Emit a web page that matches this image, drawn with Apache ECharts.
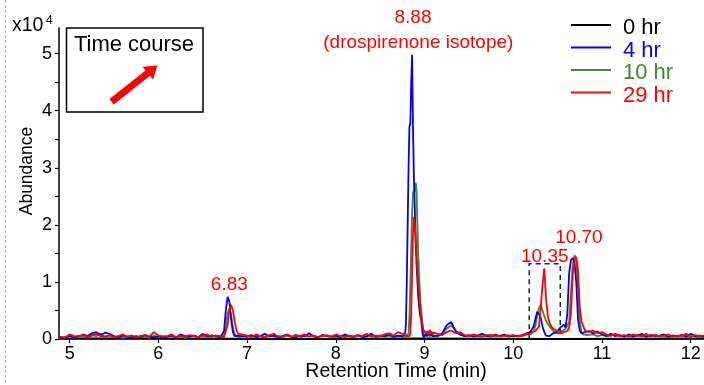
<!DOCTYPE html>
<html>
<head>
<meta charset="utf-8">
<script src="https://cdn.jsdelivr.net/npm/echarts@6/dist/echarts.min.js"></script>
<style>
  html, body { margin: 0; padding: 0; background: #fff; }
  #chart { width: 704px; height: 385px; }
</style>
</head>
<body>
<div id="chart"></div>
<script>
// Retention times (min) shared by the 4, 10 and 29 hr traces
const times = [
  4.88,4.90,4.95,5.00,5.05,5.10,5.15,5.20,5.25,5.30,5.35,5.40,5.45,5.50,5.55,5.60,5.65,5.70,5.75,5.80,5.85,5.90,5.95,6.00,6.05,6.10,6.15,6.20,6.25,6.30,6.35,6.40,6.45,6.50,6.55,6.60,6.65,6.70,
  6.72,6.74,6.76,6.78,6.80,6.82,6.84,6.86,6.88,6.90,6.92,6.94,6.96,
  7.00,7.05,7.10,7.15,7.20,7.25,7.30,7.35,7.40,7.45,7.50,7.55,7.60,7.65,7.70,7.75,7.80,7.85,7.90,7.95,8.00,8.05,8.10,8.15,8.20,8.25,8.30,8.35,8.40,8.45,8.50,8.55,8.60,8.65,8.70,8.75,
  8.76,8.77,8.78,8.79,8.80,8.81,8.82,8.83,8.84,8.85,8.86,8.87,8.88,8.89,8.90,8.91,8.92,8.93,8.94,8.95,8.96,8.97,8.98,8.99,9.00,9.01,9.02,9.03,9.04,9.05,9.06,9.07,9.08,9.09,9.10,
  9.15,9.20,9.25,9.30,9.35,9.40,9.45,9.50,9.55,9.60,9.65,9.70,9.75,9.80,9.85,9.90,9.95,10.00,10.05,10.10,10.15,
  10.17,10.19,10.21,10.23,10.25,10.27,10.29,10.31,10.33,10.35,10.37,10.39,10.41,10.43,10.45,10.47,10.49,10.51,10.53,10.55,10.57,10.59,10.61,10.63,10.65,10.67,10.69,10.71,10.73,10.75,10.77,10.79,10.81,10.83,10.85,
  10.90,10.95,11.00,11.05,11.10,11.15,11.20,11.25,11.30,11.35,11.40,11.45,11.50,11.55,11.60,11.65,11.70,11.75,11.80,11.85,11.90,11.95,12.00,12.05,12.10,12.15
];

// Abundance (x10^4), 4 hr
const abund4hr = [
  0.03,0.05,0.02,0.06,0.03,0.04,0.08,0.05,0.10,0.12,0.07,0.11,0.09,0.05,0.03,0.06,0.04,0.02,0.05,0.03,0.07,0.04,0.03,0.05,0.02,0.04,0.06,0.03,0.08,0.05,0.04,0.06,0.03,0.09,0.05,0.04,0.06,0.03,
  0.05,0.14,0.50,0.74,0.66,0.35,0.12,0.05,0.03,0.06,0.03,0.05,0.04,
  0.04,0.07,0.03,0.05,0.09,0.04,0.06,0.03,0.05,0.08,0.04,0.03,0.06,0.05,0.10,0.04,0.03,0.07,0.05,0.04,0.06,0.03,0.08,0.05,0.04,0.07,0.03,0.05,0.09,0.04,0.06,0.05,0.08,0.04,0.06,0.05,
  0.04,0.03,0.08,0.25,1.00,2.00,3.00,3.72,3.78,4.50,4.98,3.70,2.85,2.30,1.75,1.30,1.00,0.72,0.55,0.42,0.36,0.22,0.08,0.03,0.02,0.06,0.10,0.05,0.13,0.07,0.15,0.06,0.10,0.05,0.08,
  0.06,0.10,0.24,0.30,0.14,0.08,0.05,0.07,0.04,0.06,0.09,0.05,0.04,0.07,0.05,0.08,0.04,0.06,0.05,0.07,0.10,
  0.08,0.12,0.15,0.22,0.35,0.48,0.50,0.38,0.22,0.12,0.06,0.04,0.05,0.07,0.10,0.08,0.12,0.15,0.20,0.18,0.25,0.20,0.45,1.15,1.38,1.42,1.35,1.00,0.35,0.15,0.10,0.08,0.12,0.09,0.14,
  0.10,0.13,0.08,0.06,0.09,0.05,0.07,0.04,0.08,0.05,0.06,0.09,0.04,0.07,0.05,0.06,0.08,0.04,0.06,0.05,0.07,0.04,0.09,0.05,0.06,0.04
];

// Abundance (x10^4), 10 hr
const abund10hr = [
  0.02,0.04,0.03,0.05,0.02,0.06,0.04,0.03,0.07,0.05,0.09,0.04,0.06,0.03,0.05,0.02,0.04,0.06,0.03,0.05,0.04,0.02,0.06,0.03,0.05,0.04,0.07,0.03,0.05,0.02,0.04,0.06,0.03,0.05,0.04,0.07,0.03,0.05,
  0.03,0.05,0.20,0.44,0.54,0.42,0.20,0.08,0.05,0.03,0.06,0.04,0.03,
  0.05,0.03,0.06,0.04,0.03,0.07,0.04,0.05,0.03,0.06,0.04,0.08,0.03,0.05,0.04,0.06,0.03,0.05,0.07,0.04,0.03,0.05,0.06,0.04,0.03,0.06,0.05,0.04,0.07,0.03,0.05,0.04,0.06,0.03,0.05,0.04,
  0.03,0.04,0.03,0.05,0.04,0.06,0.12,0.40,0.95,1.60,2.20,2.55,2.62,2.58,2.74,2.60,2.00,1.45,1.05,0.78,0.55,0.38,0.20,0.10,0.06,0.04,0.07,0.05,0.09,0.06,0.04,0.08,0.05,0.07,0.04,
  0.05,0.09,0.18,0.24,0.15,0.08,0.06,0.04,0.07,0.05,0.04,0.06,0.08,0.04,0.06,0.05,0.07,0.04,0.06,0.05,0.08,
  0.06,0.08,0.10,0.14,0.22,0.40,0.55,0.60,0.50,0.40,0.32,0.26,0.22,0.18,0.14,0.12,0.10,0.08,0.10,0.14,0.12,0.18,0.15,0.30,0.80,1.30,1.47,1.40,0.90,0.30,0.12,0.08,0.10,0.07,0.09,
  0.08,0.05,0.07,0.04,0.06,0.09,0.05,0.04,0.06,0.03,0.07,0.05,0.04,0.06,0.08,0.04,0.05,0.03,0.06,0.04,0.07,0.05,0.04,0.06,0.03,0.05
];

// Abundance (x10^4), 29 hr
const abund29hr = [
  0.04,0.06,0.03,0.08,0.05,0.04,0.07,0.03,0.06,0.09,0.05,0.04,0.07,0.03,0.05,0.08,0.04,0.06,0.03,0.05,0.07,0.04,0.12,0.06,0.04,0.05,0.08,0.03,0.06,0.04,0.07,0.05,0.03,0.06,0.08,0.04,0.06,0.05,
  0.04,0.03,0.06,0.25,0.50,0.60,0.50,0.30,0.15,0.09,0.06,0.08,0.05,
  0.06,0.04,0.08,0.05,0.03,0.06,0.09,0.04,0.05,0.07,0.03,0.06,0.05,0.08,0.04,0.06,0.03,0.07,0.05,0.04,0.08,0.05,0.03,0.06,0.04,0.07,0.05,0.09,0.04,0.06,0.05,0.08,0.10,0.06,0.12,0.09,
  0.08,0.06,0.10,0.07,0.05,0.08,0.06,0.05,0.10,0.45,1.15,1.85,2.14,2.00,1.75,1.50,1.22,0.95,0.75,0.56,0.42,0.32,0.22,0.15,0.12,0.18,0.10,0.14,0.08,0.12,0.16,0.09,0.13,0.07,0.11,
  0.09,0.07,0.12,0.15,0.10,0.12,0.07,0.05,0.08,0.06,0.04,0.07,0.05,0.08,0.04,0.06,0.05,0.07,0.04,0.06,0.09,
  0.10,0.08,0.12,0.10,0.14,0.16,0.22,0.55,0.95,1.24,0.70,0.40,0.28,0.22,0.18,0.20,0.15,0.12,0.10,0.08,0.12,0.10,0.14,0.20,0.45,1.10,1.38,1.44,1.20,0.55,0.30,0.22,0.15,0.18,0.12,
  0.15,0.10,0.12,0.08,0.06,0.09,0.05,0.07,0.04,0.08,0.06,0.05,0.09,0.04,0.07,0.05,0.06,0.08,0.04,0.06,0.05,0.09,0.04,0.07,0.05,0.06
];

// 0 hr trace stays on the baseline
const times0hr = [4.88, 6.00, 7.50, 9.00, 10.50, 12.15];
const abund0hr = [0.01, 0.01, 0.00, 0.01, 0.00, 0.01];

const seriesNames = ['0 hr', '4 hr', '10 hr', '29 hr'];
const xTickValues = [5, 6, 7, 8, 9, 10, 11, 12];
const yLabelValues = [0, 1, 2, 3, 4, 5];
const yTickValues = [0, 0.5, 1, 1.5, 2, 2.5, 3, 3.5, 4, 4.5, 5];

// Peak retention-time callouts
const peakTexts = ['6.83', '8.88', '(drospirenone isotope)', '10.35', '10.70'];
// Dashed box around the 10.35 peak: [start, end] in min, and height
const boxSpan = [10.18, 10.53];
const boxHeight = 1.32;

[abund4hr, abund10hr, abund29hr].forEach(function (a, i) {
  if (a.length !== times.length) throw new Error('length mismatch in trace ' + i + ': ' + a.length + ' vs ' + times.length);
});

const FONT = "'Liberation Sans', Arial, sans-serif";
const colors = { '0 hr': '#000000', '4 hr': '#0000ff', '10 hr': '#3f8a2c', '29 hr': '#ff0000' };

function pairs(ts, vs) { return ts.map(function (t, i) { return [t, vs[i]]; }); }

const chart = echarts.init(document.getElementById('chart'), null, { renderer: 'canvas' });

function lineSeries(name, data, extra) {
  return Object.assign({
    name: name,
    type: 'line',
    data: data,
    showSymbol: false,
    symbol: 'none',
    silent: true,
    lineStyle: { color: colors[name], width: 1.8 },
    itemStyle: { color: colors[name] },
    clip: true
  }, extra || {});
}

chart.setOption({
  animation: false,
  backgroundColor: '#ffffff',
  grid: { left: 59, right: 0, top: 28, bottom: 46 },
  xAxis: {
    type: 'value',
    min: 4.88,
    max: 12.15,
    axisLine: { show: true, onZero: false, lineStyle: { color: '#000', width: 1.5 } },
    axisTick: { show: true, customValues: xTickValues, length: 4, lineStyle: { color: '#000', width: 1.2 } },
    axisLabel: { customValues: xTickValues, color: '#000', fontSize: 18, fontFamily: FONT, margin: 6 },
    splitLine: { show: false }
  },
  yAxis: {
    type: 'value',
    min: 0,
    max: 5.45,
    axisLine: { show: true, lineStyle: { color: '#000', width: 1.5 } },
    axisTick: { show: true, customValues: yTickValues, length: 4, lineStyle: { color: '#000', width: 1.2 } },
    axisLabel: { customValues: yLabelValues, color: '#000', fontSize: 18, fontFamily: FONT, margin: 7 },
    splitLine: { show: false }
  },
  series: [
    lineSeries('0 hr', pairs(times0hr, abund0hr)),
    lineSeries('10 hr', pairs(times, abund10hr)),
    lineSeries('4 hr', pairs(times, abund4hr)),
    lineSeries('29 hr', pairs(times, abund29hr), {
      markArea: {
        silent: true,
        itemStyle: { color: 'rgba(0,0,0,0)', borderColor: '#222', borderWidth: 1.5, borderType: [5, 4] },
        data: [[{ xAxis: boxSpan[0], yAxis: 0 }, { xAxis: boxSpan[1], yAxis: boxHeight }]]
      }
    })
  ]
});

// Callout anchors in data coordinates (min, x10^4)
const calloutAnchors = [[6.80, 0.95], [8.87, 5.63], [8.93, 5.19], [10.355, 1.44], [10.74, 1.78]];

const graphics = [];

function textEl(text, x, y, size, color, align, rotation) {
  return {
    type: 'text', silent: true, z: 100,
    x: x, y: y, rotation: rotation || 0,
    style: {
      text: text, x: 0, y: 0,
      font: size + 'px ' + FONT, fill: color,
      align: align, verticalAlign: 'middle', textAlign: align, textVerticalAlign: 'middle'
    }
  };
}

calloutAnchors.forEach(function (p, i) {
  const px = chart.convertToPixel({ xAxisIndex: 0, yAxisIndex: 0 }, p);
  graphics.push(textEl(peakTexts[i], px[0], px[1], 19, '#ff0000', 'center'));
});

// Axis titles
graphics.push(textEl('Retention Time (min)', 396, 372, 19.5, '#000', 'center'));
graphics.push(textEl('Abundance', 27, 171, 17.5, '#000', 'center', Math.PI / 2));

// Slide border on the left
graphics.push({
  type: 'line', silent: true, z: 100,
  shape: { x1: 5.5, y1: 0, x2: 5.5, y2: 385 },
  style: { stroke: '#b5b5b5', lineWidth: 1, lineDash: [3, 2] }
});

// Axis multiplier x10^4
graphics.push(textEl('x10', 12, 26, 19.5, '#000', 'left'));
graphics.push(textEl('4', 46, 20.5, 12, '#000', 'left'));

// "Time course" inset with arrow
graphics.push({
  type: 'rect', silent: true, z: 100,
  shape: { x: 66.5, y: 28, width: 136.5, height: 84 },
  style: { fill: '#fff', stroke: '#000', lineWidth: 1.5 }
});
graphics.push(Object.assign(textEl('Time course', 134, 45, 22, '#000', 'center'), { z: 101 }));
graphics.push({
  type: 'polygon', silent: true, z: 101,
  shape: { points: [[109.5, 99.0], [145.6, 70.4], [142.6, 66.8], [157.5, 65.5], [153.0, 79.5], [150.0, 75.8], [113.9, 104.4]] },
  style: { fill: '#ff0000' }
});

// Legend
const legendLineY = [25, 47.5, 70, 92.5];
seriesNames.forEach(function (name, i) {
  graphics.push({
    type: 'line', silent: true, z: 100,
    shape: { x1: 571, y1: legendLineY[i], x2: 611, y2: legendLineY[i] },
    style: { stroke: colors[name], lineWidth: 1.8 }
  });
  graphics.push(textEl(name, 623, legendLineY[i] + 3, 22, colors[name], 'left'));
});

chart.setOption({ graphic: graphics });
</script>
</body>
</html>
